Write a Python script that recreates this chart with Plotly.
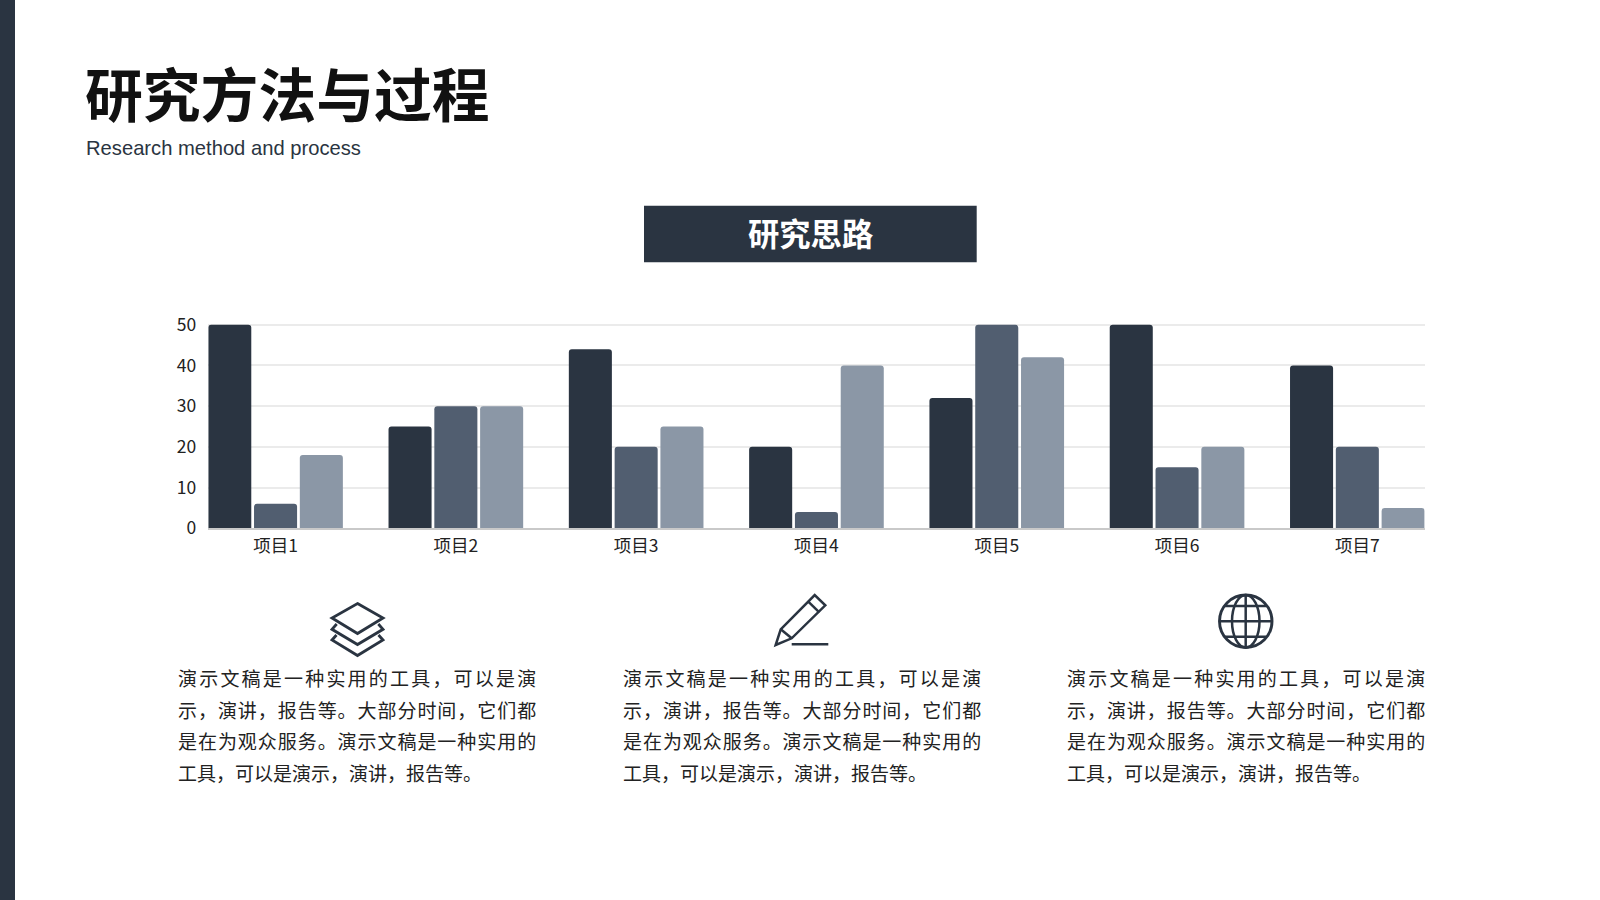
#Import necessary libraries
import plotly.graph_objects as go

# Chart values
categories = ['项目1', '项目2', '项目3', '项目4', '项目5', '项目6', '项目7']
series_a = [50, 25, 44, 20, 32, 50, 40]
series_b = [6, 30, 20, 4, 50, 15, 20]
series_c = [18, 30, 25, 40, 42, 20, 5]
y_ticks = [0, 10, 20, 30, 40, 50]

# Page texts
title_text = '研究方法与过程'
subtitle_text = 'Research method and process'
banner_text = '研究思路'
body_lines = [
    '演示文稿是一种实用的工具，可以是演',
    '示，演讲，报告等。大部分时间，它们都',
    '是在为观众服务。演示文稿是一种实用的',
    '工具，可以是演示，演讲，报告等。',
]

# Colors
DARK = '#2a3441'
MID = '#515e70'
LIGHT = '#8b97a6'
CJK_FONT = 'Noto Sans CJK SC'
W, H = 1600, 900


# Pixel position on the page -> paper coordinates
def px(x):
    return x / W


def py(y):
    return 1 - y / H


def path(points, close=False):
    d = ' '.join(('M' if i == 0 else 'L') + f'{px(x):.5f},{py(y):.5f}' for i, (x, y) in enumerate(points))
    return d + (' Z' if close else '')


def line_shape(points, close=False, width=2.8):
    return dict(type='path', xref='paper', yref='paper', path=path(points, close),
                line=dict(color=DARK, width=width))


fig = go.Figure()

for values, color in [(series_a, DARK), (series_b, MID), (series_c, LIGHT)]:
    fig.add_trace(go.Bar(x=categories, y=values, marker=dict(color=color, cornerradius=3, line=dict(width=0))))

shapes = [
    # Left band and banner
    dict(type='rect', xref='paper', yref='paper', x0=0, x1=px(15), y0=0, y1=1, fillcolor=DARK, line=dict(width=0)),
    dict(type='rect', xref='paper', yref='paper', x0=px(644), x1=px(976.7), y0=py(262.3), y1=py(205.7),
         fillcolor=DARK, line=dict(width=0)),
    # Layers icon
    line_shape([(357.5, 603.5), (383, 618), (357.5, 633.5), (332, 618)], close=True),
    line_shape([(336.7, 624), (332, 629.3), (357.5, 644.5), (383, 629.3), (378.3, 624)]),
    line_shape([(336.5, 635), (332, 640), (357.5, 655.5), (383, 640), (378.5, 635)]),
    # Pencil icon
    line_shape([(775.7, 645), (780.7, 629.3), (814.7, 595), (825.3, 605.3), (791.7, 638.3)], close=True, width=2.5),
    line_shape([(780.7, 629.3), (791.7, 638.3)], width=2.5),
    line_shape([(808.3, 601.7), (819.3, 612.3)], width=2.5),
    line_shape([(791.7, 644.3), (828.3, 644.3)], width=2.5),
    # Globe icon
    dict(type='circle', xref='paper', yref='paper', x0=px(1219.5), x1=px(1272), y0=py(647.5), y1=py(595),
         line=dict(color=DARK, width=2.9)),
    dict(type='circle', xref='paper', yref='paper', x0=px(1232), x1=px(1259.5), y0=py(647.5), y1=py(595),
         line=dict(color=DARK, width=2.5)),
    line_shape([(1245.7, 595), (1245.7, 647.5)], width=2.5),
    line_shape([(1219.5, 621.3), (1272, 621.3)], width=2.5),
    line_shape([(1225, 606), (1266.5, 606)], width=2.5),
    line_shape([(1225, 636.7), (1266.5, 636.7)], width=2.5),
]

annotations = [
    dict(x=px(85), y=py(92), text=title_text, font=dict(family=CJK_FONT, size=57.8, color='#111111', weight=700),
         xanchor='left'),
    dict(x=px(85.5), y=py(148), text=subtitle_text, font=dict(family='Liberation Sans', size=20.2, color=DARK),
         xanchor='left'),
    dict(x=px(810.5), y=py(232), text=banner_text, font=dict(family=CJK_FONT, size=31.3, color='white', weight=700),
         xanchor='center'),
]

# Three identical paragraphs, one annotation per line
for left in [178.3, 623, 1067]:
    for line, top in zip(body_lines, [677.6, 709, 740.6, 772.4]):
        annotations.append(dict(x=px(left), y=py(top), text=line,
                                font=dict(family=CJK_FONT, size=19, color='#222222'), xanchor='left'))

for a in annotations:
    a.update(xref='paper', yref='paper', yanchor='middle', showarrow=False, borderpad=0, borderwidth=0)

fig.update_layout(
    width=W,
    height=H,
    margin=dict(l=0, r=0, t=0, b=0, pad=0),
    paper_bgcolor='white',
    plot_bgcolor='white',
    showlegend=False,
    barmode='group',
    bargap=0.238,
    bargroupgap=0.06,
    font=dict(family=CJK_FONT, size=17.5, color='#222222'),
    xaxis=dict(domain=[px(208.3), px(1424.6)], range=[-0.373, 6.373], showgrid=False, showline=True,
               linecolor='#c9c9c9', linewidth=1.5, ticks='', ticklabelstandoff=1, automargin=False),
    # Range ends just above 50 so plotly keeps the top gridline
    yaxis=dict(domain=[py(528.3), py(323.5)], range=[0, 50.3], tickvals=y_ticks, gridcolor='#ebebeb', gridwidth=1.5,
               showline=False, zeroline=False, ticks='', ticklabelstandoff=11, automargin=False),
    shapes=shapes,
    annotations=annotations,
)

# Body text is justified: full lines get tracking by character count, which plotly has no attribute for
justify = """
document.body.style.margin = '0';
document.querySelectorAll('.annotation-text').forEach(function (t) {
    if (parseFloat(t.style.fontSize) !== 19) { return; }
    var n = t.textContent.length;
    var ls = n === 17 ? 2.2 : n === 18 ? 0.95 : 0;
    t.style.letterSpacing = ls + 'px';
    t.setAttribute('x', parseFloat(t.getAttribute('x')) + ls * n / 2);
});
"""

fig.write_html('out.html', post_script=justify, config=dict(displayModeBar=False))
